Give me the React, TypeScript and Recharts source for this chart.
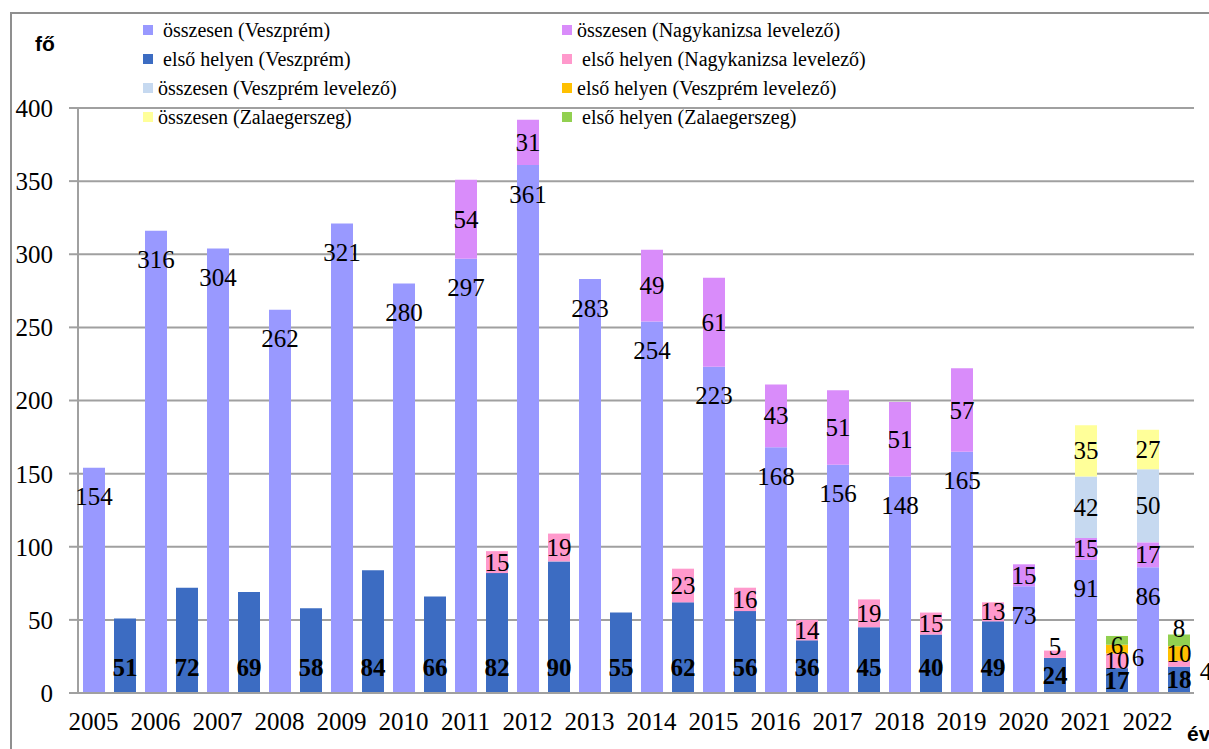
import React from "react";
import { BarChart, Bar, XAxis, YAxis, CartesianGrid, LabelList } from "recharts";

const years = [
  "2005", "2006", "2007", "2008", "2009", "2010", "2011", "2012", "2013",
  "2014", "2015", "2016", "2017", "2018", "2019", "2020", "2021", "2022",
];

// összesen (bottom stack, left bar of each year)
const veszpremTotal = [154, 316, 304, 262, 321, 280, 297, 361, 283, 254, 223, 168, 156, 148, 165, 73, 91, 86];
const nagykanizsaTotal = [null, null, null, null, null, null, 54, 31, null, 49, 61, 43, 51, 51, 57, 15, 15, 17];
const veszpremLevTotal = [null, null, null, null, null, null, null, null, null, null, null, null, null, null, null, null, 42, 50];
const zalaTotal = [null, null, null, null, null, null, null, null, null, null, null, null, null, null, null, null, 35, 27];

// első helyen (right bar of each year)
const veszpremFirst = [51, 72, 69, 58, 84, 66, 82, 90, 55, 62, 56, 36, 45, 40, 49, 24, 17, 18];
const nagykanizsaFirst = [null, null, null, null, null, null, 15, 19, null, 23, 16, 14, 19, 15, 13, 5, 10, 4];
const veszpremLevFirst = [null, null, null, null, null, null, null, null, null, null, null, null, null, null, null, null, 6, 10];
const zalaFirst = [null, null, null, null, null, null, null, null, null, null, null, null, null, null, null, null, 6, 8];

const yTicks = [0, 50, 100, 150, 200, 250, 300, 350, 400];

const COLORS = {
  vTot: "#9999FF",
  nTot: "#D98CFA",
  vlTot: "#C6D9F0",
  zTot: "#FFFF99",
  vFirst: "#3C6CC2",
  nFirst: "#FF99CC",
  vlFirst: "#FFC000",
  zFirst: "#92D050",
};

const legendRows = [
  [
    { key: "vTot", name: " összesen (Veszprém)" },
    { key: "nTot", name: "összesen (Nagykanizsa levelező)" },
  ],
  [
    { key: "vFirst", name: " első helyen (Veszprém)" },
    { key: "nFirst", name: " első helyen (Nagykanizsa levelező)" },
  ],
  [
    { key: "vlTot", name: "összesen (Veszprém levelező)" },
    { key: "vlFirst", name: "első helyen (Veszprém levelező)" },
  ],
  [
    { key: "zTot", name: "összesen (Zalaegerszeg)" },
    { key: "zFirst", name: " első helyen (Zalaegerszeg)" },
  ],
];

const data = years.flatMap((yr, i) => [
  {
    key: yr,
    vTot: veszpremTotal[i],
    nTot: nagykanizsaTotal[i],
    vlTot: veszpremLevTotal[i],
    zTot: zalaTotal[i],
  },
  {
    key: yr + "b",
    vFirst: veszpremFirst[i],
    nFirst: nagykanizsaFirst[i],
    vlFirst: veszpremLevFirst[i],
    zFirst: zalaFirst[i],
  },
]);

// a few labels sit off-centre in the original
const labelShift: Record<string, [number, number]> = {
  "nFirst-2020b": [0, -8],
  "vlFirst-2021b": [21, 8],
  "zFirst-2021b": [0, 5],
  "nFirst-2022b": [27, 8],
  "zFirst-2022b": [0, -12],
};

const SERIF = "'Liberation Serif', 'Times New Roman', serif";
const SANS = "'Liberation Sans', Arial, sans-serif";

function makeLabel(series: string, mode: "top" | "center" | "base", bold = false) {
  return (props: any) => {
    const { x, y, width, height, value } = props;
    if (value == null || value === "") return null;
    const [num, rowKey] = String(value).split("|");
    const [dx, dy] = labelShift[series + "-" + rowKey] || [0, 0];
    let ly = y + height / 2;
    if (mode === "top") ly = y + 29;
    if (mode === "base") ly = Math.max(y + height - 26, y + height / 2);
    return (
      <text
        x={x + width / 2 + dx}
        y={ly + dy}
        textAnchor="middle"
        dominantBaseline="central"
        style={{ fontFamily: SERIF, fontSize: 25, fontWeight: bold ? "bold" : "normal" }}
        fill="#000"
      >
        {num}
      </text>
    );
  };
}

const series: { key: keyof typeof COLORS; mode: "top" | "center" | "base"; bold?: boolean }[] = [
  { key: "vTot", mode: "top" },
  { key: "nTot", mode: "center" },
  { key: "vlTot", mode: "center" },
  { key: "zTot", mode: "center" },
  { key: "vFirst", mode: "base", bold: true },
  { key: "nFirst", mode: "center" },
  { key: "vlFirst", mode: "center" },
  { key: "zFirst", mode: "center" },
];

const tickStyle = { fill: "#000", fontFamily: SERIF, fontSize: 25, style: { fontFamily: SERIF } };

export default function App() {
  return (
    <div
      style={{
        position: "absolute",
        left: 0,
        top: 0,
        width: 1209,
        height: 749,
        overflow: "hidden",
        background: "#fff",
      }}
    >
      {/* outer frame */}
      <div
        style={{
          position: "absolute",
          left: 10,
          top: 12,
          width: 1220,
          height: 760,
          borderTop: "2px solid #8f8f8f",
          borderLeft: "2px solid #8f8f8f",
        }}
      />
      <BarChart
        width={1209}
        height={749}
        data={data}
        margin={{ top: 108, right: 15, bottom: 26, left: 0 }}
        barSize={22}
        style={{ position: "absolute", left: 0, top: 0, fontFamily: SERIF }}
      >
        <CartesianGrid vertical={false} stroke="#a0a0a0" strokeWidth={2} />
        <XAxis
          dataKey="key"
          height={30}
          interval={0}
          tickLine={false}
          tickSize={0}
          tickMargin={19}
          axisLine={{ stroke: "#a0a0a0", strokeWidth: 2 }}
          tickFormatter={(v: string) => (v.endsWith("b") ? "" : v)}
          tick={tickStyle}
        />
        <YAxis
          width={78}
          domain={[0, 400]}
          ticks={yTicks}
          interval={0}
          tickSize={9}
          tickMargin={16}
          tickLine={{ stroke: "#a0a0a0", strokeWidth: 2 }}
          axisLine={{ stroke: "#a0a0a0", strokeWidth: 2 }}
          tick={tickStyle}
        />
        {series.map((s) => (
          <Bar
            key={s.key}
            dataKey={s.key}
            stackId="a"
            fill={COLORS[s.key]}
            isAnimationActive={false}
          >
            <LabelList
              dataKey={(row: any) => (row[s.key] == null ? null : `${row[s.key]}|${row.key}`)}
              content={makeLabel(s.key, s.mode, s.bold)}
            />
          </Bar>
        ))}
      </BarChart>

      {/* legend */}
      {legendRows.map((row, r) =>
        row.map((item, c) => (
          <div
            key={item.key}
            style={{
              position: "absolute",
              left: c === 0 ? 143 : 562,
              top: 30 + r * 29 - 12,
              height: 24,
              display: "flex",
              alignItems: "center",
              fontFamily: SERIF,
              fontSize: 20,
              color: "#000",
              whiteSpace: "pre",
            }}
          >
            <span
              style={{
                display: "inline-block",
                width: 10,
                height: 10,
                background: COLORS[item.key as keyof typeof COLORS],
                marginRight: 5,
              }}
            />
            <span>{item.name}</span>
          </div>
        ))
      )}

      <div
        style={{
          position: "absolute",
          left: 35,
          top: 32,
          fontFamily: SANS,
          fontWeight: "bold",
          fontSize: 21,
          color: "#000",
        }}
      >
        fő
      </div>
      <div
        style={{
          position: "absolute",
          left: 1187,
          top: 722,
          fontFamily: SANS,
          fontWeight: "bold",
          fontSize: 21,
          color: "#000",
        }}
      >
        év
      </div>
    </div>
  );
}
